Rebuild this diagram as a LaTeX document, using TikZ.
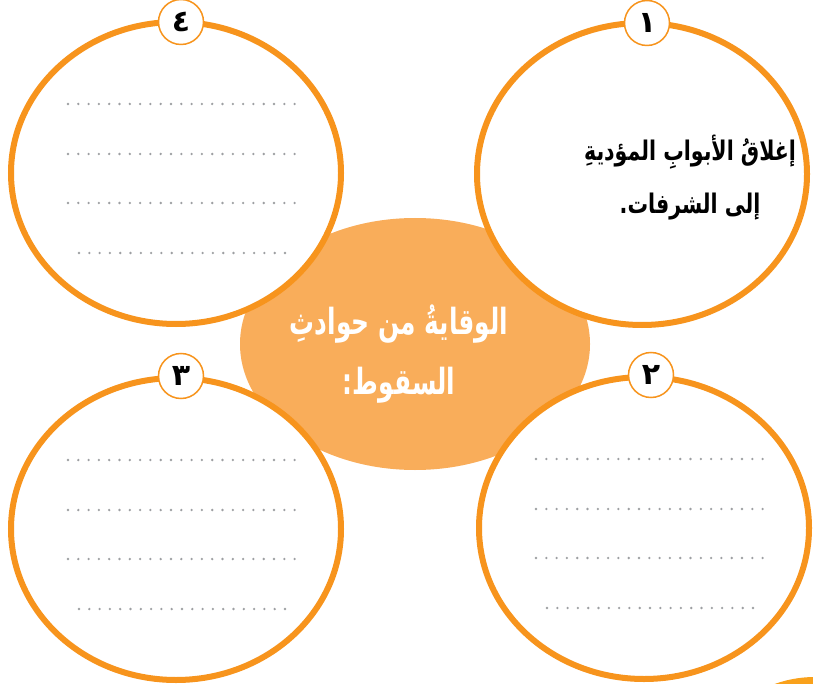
\documentclass[tikz,border=0pt]{standalone}
\usepackage{fontspec}
\usetikzlibrary{shapes.geometric,positioning}
\TeXXeTstate=1
\newfontfamily\arabicfont[Script=Arabic]{DejaVu Sans}

\definecolor{ringorange}{HTML}{F7941D}
\definecolor{huborange}{HTML}{F9AD5A}
\definecolor{cornerorange}{HTML}{F9A11B}
\definecolor{dotgray}{HTML}{9D9FA2}

\tikzset{
  ring/.style={ellipse, draw=ringorange, line width=6pt, fill=white,
    minimum width=330pt, minimum height=302pt},
  badge/.style={circle, draw=ringorange, line width=1.5pt, fill=white,
    minimum size=45pt, inner sep=0pt,
    font=\arabicfont\bfseries\fontsize{30}{30}\selectfont},
  writeline/.style={dotgray, line width=2.6pt, line cap=round,
    dash pattern=on 0pt off 10.3pt},
}

\begin{document}
\begin{tikzpicture}[x=1pt,y=-1pt]
\useasboundingbox (0,0) rectangle (813,684);

% centre blob
\node[ellipse, fill=huborange, minimum width=350pt, minimum height=252pt] (hub) at (415,344) {};

% four answer rings
\node[ring] (tl) at (176,173) {};
\node[ring] (tr) at (642,174) {};
\node[ring] (bl) at (176,529) {};
\node[ring] (br) at (644,528) {};

% number badges
\node[badge] (n4) at ([xshift=5pt, yshift=-3pt]tl.north) {\beginR ٤\endR};
\node[badge] (n1) at ([xshift=5pt, yshift=-3pt]tr.north) {\beginR ١\endR};
\node[badge] (n3) at ([xshift=5pt, yshift=-1pt]bl.north) {\beginR ٣\endR};
\node[badge] (n2) at ([xshift=7pt, yshift=-1pt]br.north) {\beginR ٢\endR};

% title
\node[text=white, align=center, font=\arabicfont\bfseries\fontsize{36}{60}\selectfont]
  (title) at (399,354) {\scalebox{0.69}[1]{\beginR الوقايةُ من حوادثِ\endR}\\\scalebox{0.69}[1]{\beginR السقوط:\endR}};

% first answer
\node[align=center, font=\arabicfont\bfseries\fontsize{27}{53}\selectfont]
  (answer) at (690,178) {\scalebox{0.76}[1]{\beginR إغلاقُ الأبوابِ المؤديةِ\endR}\\\scalebox{0.76}[1]{\beginR إلى الشرفات.\endR}};

% empty writing lines
\foreach \ring in {tl,bl,br}
  \foreach \dy/\xa in {-69/-108, -19/-108, 30/-108, 80/-97}
    \draw[writeline] ([shift={(\xa,\dy)}]\ring.center) -- ([shift={(119,\dy)}]\ring.center);

% edge of the next element
\fill[cornerorange] (815,797) circle[radius=120pt];

\end{tikzpicture}
\end{document}
